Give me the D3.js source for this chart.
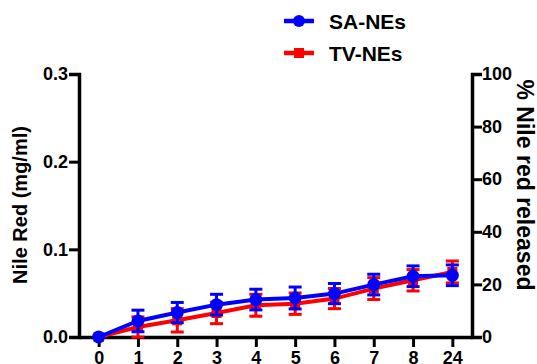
<!DOCTYPE html>
<html>
<head>
<meta charset="utf-8">
<script src="https://cdn.jsdelivr.net/npm/d3@7"></script>
<style>
  html, body { margin: 0; padding: 0; background: #fff; }
  svg { display: block; font-family: Arial, "Liberation Sans", sans-serif; font-weight: bold; }
</style>
</head>
<body>
<svg id="chart" width="537" height="364"></svg>
<script>
// Time points (h)
const timePoints = ["0", "1", "2", "3", "4", "5", "6", "7", "8", "24"];
// Nile Red released (mg/ml), mean and error
const saMean = [0, 0.0183, 0.0279, 0.0369, 0.0427, 0.0445, 0.0495, 0.0598, 0.0693, 0.0704];
const saErr  = [0, 0.0123, 0.0115, 0.0118, 0.0118, 0.0125, 0.0115, 0.0118, 0.0118, 0.0118];
const tvMean = [0, 0.0114, 0.0190, 0.0274, 0.0362, 0.0380, 0.0438, 0.0552, 0.0647, 0.0742];
const tvErr  = [0, 0.0115, 0.0133, 0.0122, 0.0125, 0.0122, 0.0115, 0.0125, 0.0122, 0.0125];
const leftTicks = [0, 0.1, 0.2, 0.3];
const rightTicks = [0, 20, 40, 60, 80, 100];

const series = [
  { name: "TV-NEs", color: "#ff0000", mean: tvMean, err: tvErr, marker: "square" },
  { name: "SA-NEs", color: "#0000ff", mean: saMean, err: saErr, marker: "circle" }
];

const svg = d3.select("#chart");
const plotLeft = 79, plotRight = 472, plotTop = 74, plotBottom = 337;

const x = d3.scalePoint().domain(timePoints).range([plotLeft, plotRight]).padding(0.5);
const y = d3.scaleLinear().domain([0, 0.3]).range([plotBottom, plotTop]);
const y2 = d3.scaleLinear().domain([0, 100]).range([plotBottom, plotTop]);

function styleAxis(g) {
  g.selectAll("path").attr("stroke", "#000").attr("stroke-width", 3.5);
  g.selectAll("line").attr("stroke", "#000").attr("stroke-width", 3);
  g.selectAll("text").attr("fill", "#000").attr("font-size", 18).attr("font-weight", "bold")
    .attr("font-family", "Arial, 'Liberation Sans', sans-serif");
}

svg.append("g").attr("transform", `translate(${plotLeft},0)`)
  .call(d3.axisLeft(y).tickValues(leftTicks).tickFormat(d3.format(".1f")).tickSize(10).tickSizeOuter(10).tickPadding(1))
  .call(styleAxis);

svg.append("g").attr("transform", `translate(${plotRight},0)`)
  .call(d3.axisRight(y2).tickValues(rightTicks).tickSize(10).tickSizeOuter(10).tickPadding(0))
  .call(styleAxis);

svg.append("g").attr("transform", `translate(0,${plotBottom})`)
  .call(d3.axisBottom(x).tickSize(10).tickSizeOuter(0).tickPadding(4))
  .call(styleAxis);

// Axis titles
svg.append("text")
  .attr("transform", `translate(27,205) rotate(-90)`)
  .attr("text-anchor", "middle").attr("font-size", 20).text("Nile Red (mg/ml)");
svg.append("text")
  .attr("transform", `translate(517,185) rotate(90)`)
  .attr("text-anchor", "middle").attr("font-size", 23).text("% Nile red released");

// Series: lines, error bars, markers
const line = d3.line().x((d, i) => x(timePoints[i])).y(d => y(d));
const capW = 6.5;

series.forEach(s => {
  const g = svg.append("g");
  g.append("path").datum(s.mean).attr("d", line)
    .attr("fill", "none").attr("stroke", s.color).attr("stroke-width", 4);

  const eb = g.selectAll(".eb").data(s.mean.map((m, i) => ({ m, e: s.err[i], t: timePoints[i] })))
    .enter().append("g").filter(d => d.e > 0);
  eb.append("line").attr("x1", d => x(d.t)).attr("x2", d => x(d.t))
    .attr("y1", d => y(d.m + d.e)).attr("y2", d => y(d.m - d.e))
    .attr("stroke", s.color).attr("stroke-width", 3);
  [1, -1].forEach(sign => {
    eb.append("line").attr("x1", d => x(d.t) - capW).attr("x2", d => x(d.t) + capW)
      .attr("y1", d => y(d.m + sign * d.e)).attr("y2", d => y(d.m + sign * d.e))
      .attr("stroke", s.color).attr("stroke-width", 3);
  });

  if (s.marker === "circle") {
    g.selectAll(".mk").data(s.mean).enter().append("circle")
      .attr("cx", (d, i) => x(timePoints[i])).attr("cy", d => y(d)).attr("r", 6.5)
      .attr("fill", s.color);
  } else {
    g.selectAll(".mk").data(s.mean).enter().append("rect")
      .attr("x", (d, i) => x(timePoints[i]) - 5).attr("y", d => y(d) - 5)
      .attr("width", 10).attr("height", 10).attr("fill", s.color);
  }
});

// Legend
const legend = [
  { name: "SA-NEs", color: "#0000ff", marker: "circle", y: 21 },
  { name: "TV-NEs", color: "#ff0000", marker: "square", y: 53 }
];
legend.forEach(l => {
  const g = svg.append("g");
  g.append("line").attr("x1", 284).attr("x2", 314).attr("y1", l.y).attr("y2", l.y)
    .attr("stroke", l.color).attr("stroke-width", 4.5);
  if (l.marker === "circle") {
    g.append("circle").attr("cx", 299).attr("cy", l.y).attr("r", 6).attr("fill", l.color);
  } else {
    g.append("rect").attr("x", 294).attr("y", l.y - 5).attr("width", 10).attr("height", 10).attr("fill", l.color);
  }
  g.append("text").attr("x", 329).attr("y", l.y + 8).attr("font-size", 21).text(l.name);
});
</script>
</body>
</html>
